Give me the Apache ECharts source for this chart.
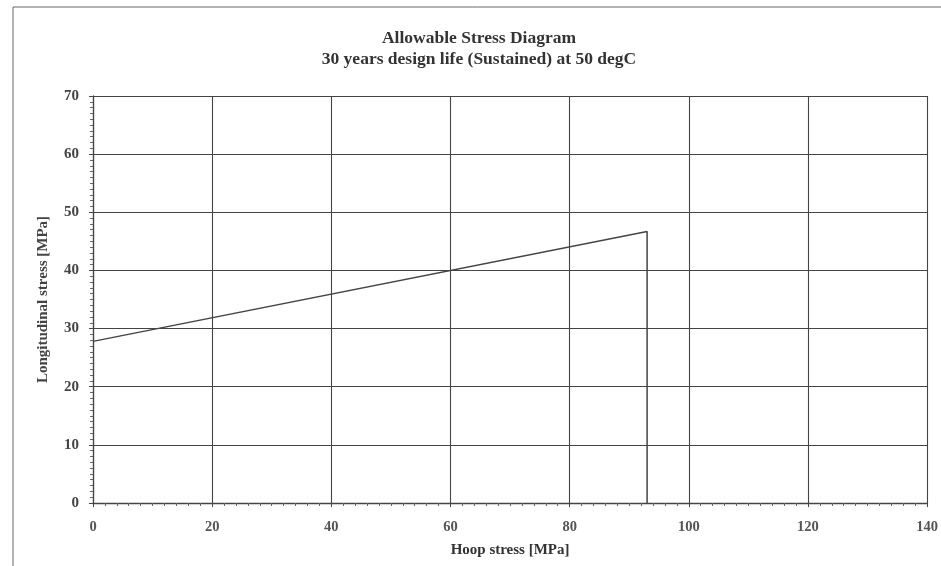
<!DOCTYPE html>
<html>
<head>
<meta charset="utf-8">
<script src="https://cdn.jsdelivr.net/npm/echarts@6/dist/echarts.min.js"></script>
<style>html,body{margin:0;padding:0;background:#fff}#c{width:941px;height:566px}</style>
</head>
<body>
<div id="c"></div>
<script>
var titleLines = ["Allowable Stress Diagram", "30 years design life (Sustained) at 50 degC"];
var xAxisName = "Hoop stress [MPa]";
var yAxisName = "Longitudinal stress [MPa]";
var hoopStress = [0, 93, 93];
var longStress = [27.8, 46.7, 0];

var serif = "'Liberation Serif','DejaVu Serif',serif";
var chart = echarts.init(document.getElementById('c'));
chart.setOption({
  backgroundColor: '#fff',
  animation: false,
  graphic: [{
    type: 'rect', shape: {x: 13, y: 7, width: 1000, height: 700},
    style: {fill: 'none', stroke: '#666', lineWidth: 1}, silent: true
  }],
  title: {
    text: titleLines.join('\n'),
    left: 474, top: 23, textAlign: 'center',
    textStyle: {fontFamily: serif, fontWeight: 'bold', fontSize: 17.5, color: '#333', lineHeight: 21}
  },
  grid: {left: 93, right: 13, top: 96, bottom: 63},
  xAxis: {
    type: 'value', min: 0, max: 140, interval: 20,
    name: xAxisName, nameLocation: 'middle', nameGap: 40,
    nameTextStyle: {fontFamily: serif, fontWeight: 'bold', fontSize: 15, color: '#333'},
    axisLine: {lineStyle: {color: '#444', width: 1.3}},
    axisTick: {show: true, inside: false, length: 4, lineStyle: {color: '#444'}},
    minorTick: {show: true, splitNumber: 10, length: 3, lineStyle: {color: '#666'}},
    axisLabel: {fontFamily: serif, fontWeight: 'bold', fontSize: 14.5, color: '#555', margin: 17},
    splitLine: {show: true, lineStyle: {color: '#444', width: 1.1}}
  },
  yAxis: {
    type: 'value', min: 0, max: 70, interval: 10,
    name: yAxisName, nameLocation: 'middle', nameGap: 42,
    nameTextStyle: {fontFamily: serif, fontWeight: 'bold', fontSize: 15, color: '#444'},
    axisLine: {show: true, lineStyle: {color: '#444', width: 1.3}},
    axisTick: {show: true, length: 4, lineStyle: {color: '#444'}},
    minorTick: {show: true, splitNumber: 10, length: 3, lineStyle: {color: '#666'}},
    axisLabel: {fontFamily: serif, fontWeight: 'bold', fontSize: 15, color: '#444', margin: 14},
    splitLine: {show: true, lineStyle: {color: '#444', width: 1.1}}
  },
  series: [{
    type: 'line',
    data: hoopStress.map(function (x, i) { return [x, longStress[i]]; }),
    symbol: 'none',
    lineStyle: {color: '#444', width: 1.5}
  }]
});
</script>
</body>
</html>
